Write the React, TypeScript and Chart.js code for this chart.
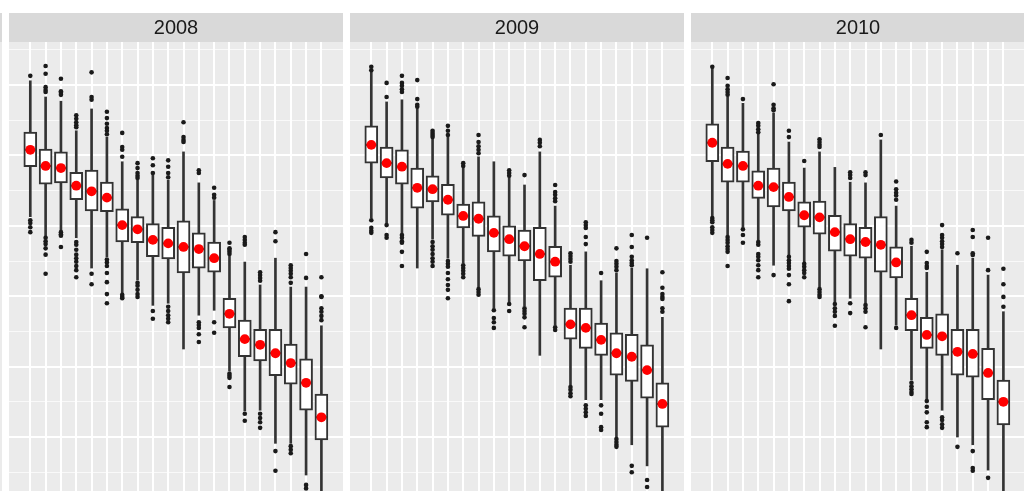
import React, { useEffect, useRef } from "react";
import { Chart, registerables } from "chart.js";

Chart.register(...registerables);

// ---------- data ----------
const CATEGORIES = [1, 2, 3, 4, 5, 6, 7, 8, 9, 10, 11, 12, 13, 14, 15, 16, 17, 18, 19, 20];
const Y_GRID = [5, 10, 15, 20, 25, 30, 35, 40, 45, 50, 55, 60, 65];

// 2008
const LO_2008 = [41.3, 38.6, 39.4, 38.3, 34.0, 35.6, 30.5, 32.3, 28.7, 29.0, 22.5, 27.3, 28.0, 19.4, 13.7, 13.8, 9.1, 9.1, 4.6, 1.0];
const Q1_2008 = [48.4, 45.9, 46.1, 43.7, 42.1, 42.0, 37.7, 37.6, 35.6, 35.3, 33.3, 34.0, 33.4, 25.5, 21.4, 20.8, 18.7, 17.5, 13.8, 9.6];
const MID_2008 = [50.8, 48.5, 48.2, 45.7, 44.9, 44.0, 40.1, 39.5, 38.0, 37.5, 37.0, 36.7, 35.4, 27.5, 23.9, 23.1, 21.9, 20.5, 17.7, 12.8];
const Q3_2008 = [53.3, 50.9, 50.5, 47.6, 47.9, 46.2, 42.4, 41.3, 40.3, 39.8, 40.7, 39.0, 37.7, 29.7, 26.6, 25.3, 25.3, 23.2, 21.1, 16.1];
const HI_2008 = [60.6, 58.3, 57.7, 53.5, 56.6, 52.6, 49.1, 46.5, 47.2, 46.5, 50.5, 46.1, 43.6, 35.7, 34.85, 31.6, 35.4, 31.3, 31.3, 25.8];
const OUT_2008 = [
  [61.3, 40.8, 40.4, 39.8, 39.1],
  [62.7, 61.6, 59.7, 59.3, 59.0, 38.3, 37.8, 37.4, 36.8, 35.9, 33.2],
  [60.9, 59.1, 58.9, 58.6, 39.1, 38.8, 38.6, 37.0],
  [55.7, 55.2, 54.7, 54.3, 54.0, 37.7, 37.3, 36.6, 35.9, 35.4, 34.9, 34.3, 33.7, 32.7],
  [61.8, 58.3, 57.9, 33.2, 31.7],
  [56.2, 55.3, 54.5, 53.9, 53.5, 53.0, 35.2, 34.8, 34.3, 33.3, 32.0, 30.3, 29.0],
  [53.2, 51.2, 50.8, 49.8, 30.2, 29.9, 29.7],
  [48.9, 48.2, 47.5, 47.1, 46.8, 31.9, 31.5, 30.9, 30.3, 29.9],
  [49.6, 48.6, 47.5, 27.9, 26.8],
  [49.3, 48.4, 47.5, 46.9, 28.5, 27.9, 27.3, 26.8, 26.3],
  [54.7, 52.6, 52.2, 51.9],
  [47.9, 47.5, 26.3, 25.9, 25.5, 24.6, 23.5],
  [45.4, 44.4, 44.0, 26.3, 24.8],
  [37.6, 36.8, 36.6, 36.3, 36.0, 19.0, 18.7, 18.4, 17.1],
  [38.4, 38.0, 37.6, 37.3, 13.3, 12.3],
  [33.4, 33.0, 32.6, 32.2, 13.3, 12.7, 12.1, 11.3],
  [39.1, 37.8, 8.0, 5.2],
  [34.4, 34.0, 33.6, 33.2, 32.7, 31.9, 8.7, 8.2, 7.7],
  [36.0, 32.6, 3.2, 2.7],
  [32.7, 30.0, 29.9, 28.3, 27.8, 27.2, 26.6],
];

// 2009
const LO_2009 = [41.1, 40.4, 39.0, 34.0, 38.1, 35.4, 34.7, 31.3, 28.3, 29.2, 28.6, 21.6, 25.9, 17.4, 15.3, 15.3, 10.0, 8.9, 5.9, 1.0];
const Q1_2009 = [48.9, 46.8, 45.9, 42.5, 43.4, 41.5, 39.7, 38.5, 36.3, 35.7, 35.0, 32.2, 32.7, 23.9, 22.6, 21.6, 18.8, 17.9, 15.5, 11.4];
const MID_2009 = [51.5, 48.9, 48.4, 45.4, 45.2, 43.7, 41.4, 41.0, 39.0, 38.1, 37.1, 36.0, 34.9, 26.0, 25.5, 23.8, 21.9, 21.4, 19.5, 14.7];
const Q3_2009 = [54.2, 51.2, 50.8, 48.2, 47.1, 45.9, 43.1, 43.4, 41.4, 40.0, 39.4, 39.8, 37.1, 28.3, 28.3, 26.2, 24.8, 24.6, 23.1, 17.7];
const HI_2009 = [61.8, 57.6, 57.9, 56.6, 52.5, 52.6, 48.2, 49.8, 49.1, 46.8, 45.8, 50.5, 42.8, 34.4, 36.3, 32.2, 33.3, 34.0, 33.9, 27.0];
const OUT_2009 = [
  [62.6, 62.1, 40.8, 39.7, 39.3, 39.0],
  [60.3, 58.3, 40.1, 38.7, 38.3],
  [61.3, 60.3, 59.9, 59.4, 59.0, 38.7, 38.3, 37.8, 37.6, 36.3, 34.3],
  [60.7, 58.0, 57.2, 56.9],
  [53.5, 53.2, 52.9, 52.6, 37.7, 37.1, 36.6, 36.0, 35.4, 34.9, 34.3],
  [54.2, 53.5, 52.9, 35.0, 34.6, 34.2, 33.3, 32.4, 31.6, 30.9, 29.7],
  [48.9, 48.5, 34.4, 34.0, 33.6, 33.2, 32.7],
  [52.9, 51.9, 51.3, 50.8, 50.3, 31.0, 30.6, 30.2],
  [28.0, 26.9, 26.3, 25.5],
  [47.9, 47.5, 47.1, 28.9, 27.9],
  [47.2, 28.3, 27.9, 27.5, 27.0, 25.6],
  [52.2, 51.8, 51.3],
  [45.8, 44.8, 44.4, 43.9, 43.5, 25.6, 25.2],
  [36.1, 35.7, 35.3, 34.9, 17.1, 16.7, 16.2, 15.8],
  [40.5, 40.1, 39.7, 38.4, 37.4, 14.5, 14.0, 13.5, 13.0],
  [33.3, 14.5, 13.3, 11.4, 11.0],
  [36.8, 35.0, 34.6, 34.2, 33.7, 9.7, 9.3, 8.9, 8.6],
  [38.7, 37.0, 35.6, 35.1, 34.7, 34.4, 5.9, 5.0],
  [38.3, 3.9, 2.9],
  [33.4, 31.2, 30.3, 29.9, 29.6, 28.3, 27.8],
];

// 2010
const LO_2010 = [41.25, 38.7, 39.8, 38.0, 34.4, 35.85, 34.9, 31.3, 29.2, 29.7, 29.0, 22.5, 25.9, 18.1, 15.4, 13.8, 10.0, 8.9, 5.3, 1.0];
const Q1_2010 = [49.1, 46.2, 46.2, 43.9, 42.7, 42.1, 39.8, 38.8, 36.4, 35.7, 35.4, 33.4, 32.6, 25.1, 22.6, 21.6, 18.8, 18.5, 15.3, 11.7];
const MID_2010 = [51.8, 48.8, 48.5, 45.7, 45.5, 44.1, 41.5, 41.2, 39.1, 38.1, 37.7, 37.3, 34.8, 27.3, 24.5, 24.3, 22.1, 21.8, 19.1, 15.0];
const Q3_2010 = [54.5, 51.2, 50.6, 47.8, 48.2, 46.2, 43.4, 43.5, 41.5, 40.3, 39.8, 41.3, 37.0, 29.7, 27.0, 27.5, 25.3, 25.3, 22.6, 18.1];
const HI_2010 = [62.4, 58.3, 57.4, 53.2, 56.0, 51.9, 48.2, 50.5, 48.3, 46.2, 46.1, 52.2, 42.8, 37.1, 33.4, 36.6, 34.4, 35.4, 33.0, 27.8];
const OUT_2010 = [
  [62.6, 41.1, 40.8, 40.5, 39.8, 39.4, 39.0],
  [61.0, 59.9, 59.4, 59.0, 58.6, 38.4, 38.0, 37.6, 37.1, 36.7, 36.3, 34.3],
  [58.0, 39.5, 38.7, 37.6],
  [54.6, 54.2, 53.7, 53.3, 37.7, 37.3, 36.0, 35.6, 35.1, 34.4, 33.7, 32.7],
  [60.1, 57.2, 56.7, 56.4, 33.0],
  [53.5, 52.6, 35.6, 35.1, 34.7, 34.3, 33.9, 33.0, 31.7, 29.3],
  [49.2, 34.6, 34.2, 33.7, 33.3, 32.7],
  [52.3, 51.9, 51.5, 51.2, 31.0, 30.6, 30.2, 29.9],
  [28.9, 28.3, 27.8, 27.2, 25.8],
  [47.6, 47.2, 46.8, 29.0, 27.6],
  [47.6, 47.2, 28.75, 28.3, 27.8, 25.6],
  [52.9],
  [46.3, 45.2, 44.7, 44.3, 43.7, 25.5],
  [38.0, 37.6, 17.7, 17.2, 16.8, 16.4, 16.1],
  [36.3, 34.7, 34.3, 34.0, 15.1, 14.3, 13.5, 12.1, 11.4],
  [40.1, 38.7, 38.3, 37.8, 37.4, 37.0, 12.8, 12.4, 11.8, 11.3],
  [36.1, 8.6],
  [39.4, 38.4, 36.1, 35.85, 8.0, 5.6, 5.2],
  [38.3, 33.7, 4.2],
  [33.9, 31.7, 29.9, 28.5],
];

// ---------- styles ----------
const STRIP_BG = "#D9D9D9";
const PANEL_BG = "#EBEBEB";
const INK = "#333333";
const FONT = "'Liberation Sans', Arial, Helvetica, sans-serif";
const PANEL_W = 334;
const PANEL_H = 478;
const PANEL_TOP = 13;

type PanelProps = {
  title: string;
  left: number;
  lo: number[];
  q1: number[];
  mid: number[];
  q3: number[];
  hi: number[];
  out: number[][];
};

function Panel({ title, left, lo, q1, mid, q3, hi, out }: PanelProps) {
  const ref = useRef<HTMLCanvasElement | null>(null);

  useEffect(() => {
    if (!ref.current) return;
    const boxes = CATEGORIES.map((c, i) => ({ x: c, y: [q1[i], q3[i]] }));
    const whiskers = CATEGORIES.map((c, i) => ({ x: c, y: [lo[i], hi[i]] }));
    const centers = CATEGORIES.map((c, i) => ({ x: c, y: mid[i] }));
    const outliers = CATEGORIES.flatMap((c, i) => out[i].map((v) => ({ x: c, y: v })));

    const bgPlugin = {
      id: "facetBackground",
      beforeDraw(chart: any) {
        const ctx = chart.ctx;
        const a = chart.chartArea;
        ctx.save();
        ctx.fillStyle = STRIP_BG;
        ctx.fillRect(0, 0, chart.width, a.top);
        ctx.fillStyle = PANEL_BG;
        ctx.fillRect(a.left, a.top, a.right - a.left, a.bottom - a.top);
        ctx.restore();
      },
    };

    const chart = new Chart(ref.current, {
      type: "bar",
      data: {
        datasets: [
          {
            type: "scatter",
            data: centers,
            pointRadius: 4.9,
            pointHoverRadius: 4.9,
            backgroundColor: "#FF0000",
            borderColor: "#FF0000",
            borderWidth: 0,
            order: 0,
          } as any,
          {
            type: "scatter",
            data: centers,
            pointStyle: "line",
            pointRadius: 5.5,
            borderColor: INK,
            borderWidth: 2,
            order: 1,
          } as any,
          {
            type: "bar",
            data: boxes,
            backgroundColor: "#FFFFFF",
            borderColor: INK,
            borderWidth: 2,
            borderSkipped: false,
            barThickness: 13,
            grouped: false,
            order: 2,
          } as any,
          {
            type: "scatter",
            data: outliers,
            pointRadius: 2.3,
            backgroundColor: "#1A1A1A",
            borderWidth: 0,
            order: 3,
          } as any,
          {
            type: "bar",
            data: whiskers,
            backgroundColor: INK,
            borderWidth: 0,
            barThickness: 2,
            grouped: false,
            order: 4,
          } as any,
        ],
      },
      options: {
        animation: false,
        responsive: false,
        devicePixelRatio: 1,
        layout: { padding: 0, autoPadding: false },
        events: [],
        plugins: {
          legend: { display: false },
          tooltip: { enabled: false },
          title: {
            display: true,
            text: title,
            color: "#1A1A1A",
            font: { family: FONT, size: 20, weight: "normal", lineHeight: 1.2 },
            padding: { top: 3, bottom: 2 },
          },
        },
        scales: {
          x: {
            type: "linear",
            min: -0.39,
            max: 21.41,
            offset: false,
            afterBuildTicks: (axis: any) => {
              axis.ticks = CATEGORIES.map((v) => ({ value: v }));
            },
            ticks: { display: false },
            grid: { color: "#FFFFFF", lineWidth: 2, drawTicks: false, offset: false },
            border: { display: false },
          },
          y: {
            type: "linear",
            min: 2.33,
            max: 66.11,
            beginAtZero: false,
            afterBuildTicks: (axis: any) => {
              axis.ticks = Y_GRID.map((v) => ({ value: v }));
            },
            ticks: { display: false },
            grid: {
              color: (ctx: any) =>
                ctx.tick && ctx.tick.value % 10 === 0 ? "#FFFFFF" : "rgba(255,255,255,0.7)",
              lineWidth: (ctx: any) => (ctx.tick && ctx.tick.value % 10 === 0 ? 2 : 1),
              drawTicks: false,
            },
            border: { display: false },
          },
        },
      } as any,
      plugins: [bgPlugin],
    });
    return () => chart.destroy();
  }, []);

  return (
    <canvas
      ref={ref}
      width={PANEL_W}
      height={PANEL_H}
      style={{ position: "absolute", left, top: PANEL_TOP, width: PANEL_W, height: PANEL_H, display: "block" }}
    />
  );
}

export default function App() {
  return (
    <div
      style={{
        position: "fixed",
        left: 0,
        top: 0,
        width: 1024,
        height: 491,
        overflow: "hidden",
        background: "#FFFFFF",
      }}
    >
      <div style={{ position: "absolute", left: 0, top: 13, width: 2, height: 29, background: STRIP_BG }} />
      <div style={{ position: "absolute", left: 0, top: 42, width: 2, height: 449, background: PANEL_BG }} />
      <Panel title="2008" left={9} lo={LO_2008} q1={Q1_2008} mid={MID_2008} q3={Q3_2008} hi={HI_2008} out={OUT_2008} />
      <Panel title="2009" left={350} lo={LO_2009} q1={Q1_2009} mid={MID_2009} q3={Q3_2009} hi={HI_2009} out={OUT_2009} />
      <Panel title="2010" left={691} lo={LO_2010} q1={Q1_2010} mid={MID_2010} q3={Q3_2010} hi={HI_2010} out={OUT_2010} />
    </div>
  );
}
